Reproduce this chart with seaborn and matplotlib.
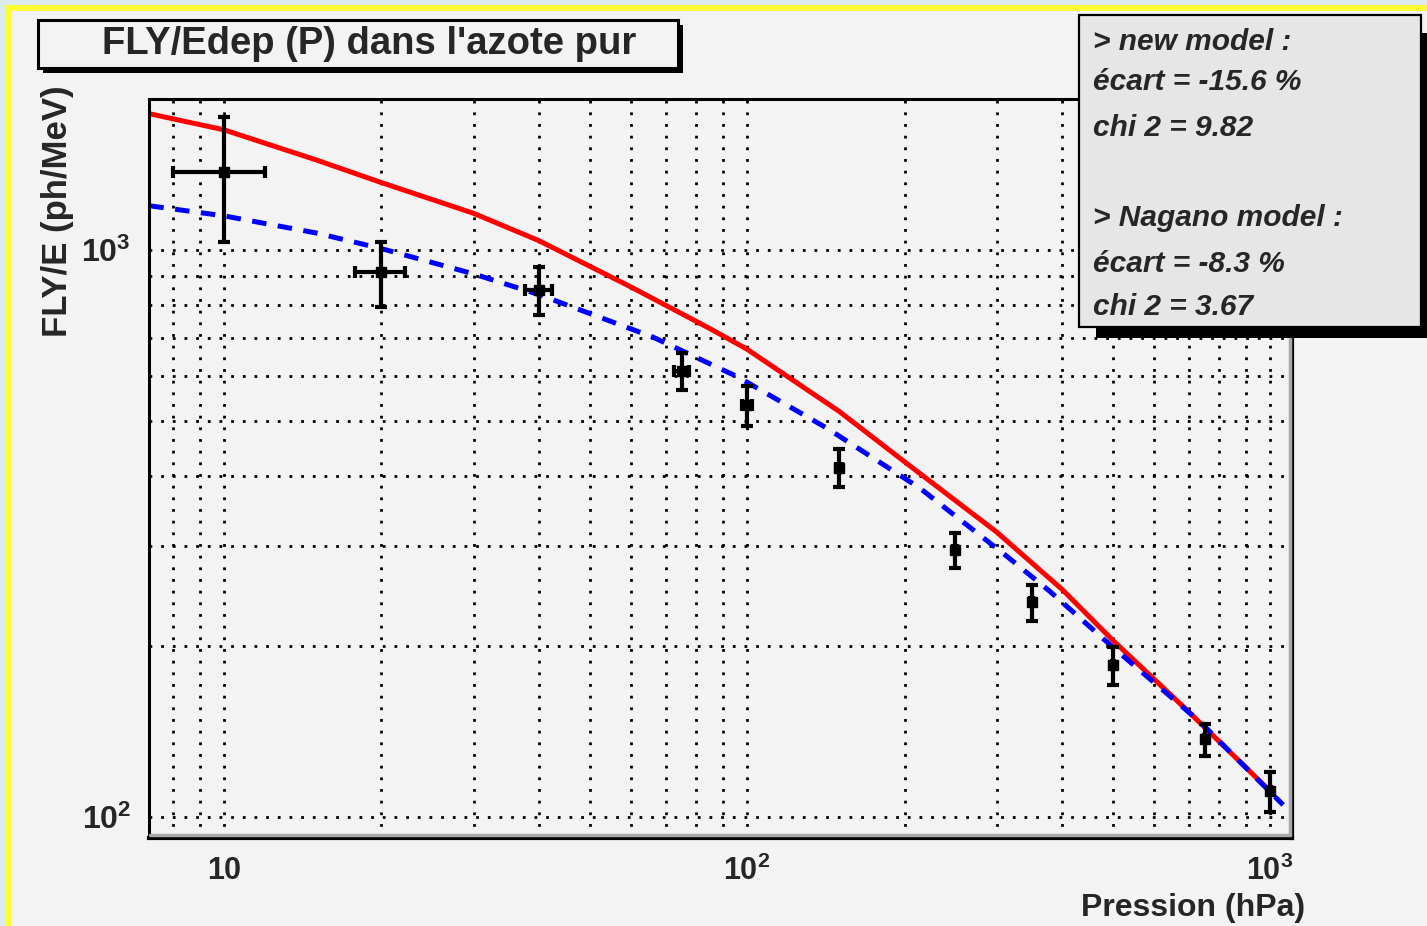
import numpy as np
import pandas as pd
import matplotlib
matplotlib.use('Agg')
import matplotlib.pyplot as plt
import seaborn as sns
from matplotlib.patches import Rectangle
from matplotlib.lines import Line2D

# points de mesure (azote pur)
pression = [10, 20, 40, 75, 100, 150, 250, 350, 500, 750, 1000]
fly = [1373, 914, 850, 612, 533, 413, 296, 239, 185, 137, 111]
err_fly = [340, 120, 83, 47, 43, 32, 21, 17, 14, 9, 9]
err_p = [2, 2.2, 2.3, 2.5, 2, 2, 2, 2, 2, 2, 2]

# nouveau modele (rouge)
p_new = [7.2, 10, 15, 20, 30, 40, 60, 85, 100, 150, 200, 300, 400, 500, 700, 1000]
fly_new = [1738, 1628, 1441, 1314, 1160, 1038, 860, 726, 668, 519, 423, 318, 252, 205, 153, 111]

# modele Nagano (bleu)
p_nag = [7.2, 10, 15, 20, 30, 40, 66, 96, 142, 214, 314, 379, 501, 735, 1059]
fly_nag = [1196, 1148, 1071, 1005, 907, 834, 702, 597, 485, 380, 288, 250, 199, 147, 105]

x_ticks = [10, 100, 1000]
x_labels = ['10', '$10^{2}$', '$10^{3}$']
y_ticks = [100, 1000]
y_labels = ['$10^{2}$', '$10^{3}$']

stats_lines = ['> new model :', 'écart = -15.6 %', 'chi 2 = 9.82', '',
               '> Nagano model :', 'écart = -8.3 %', 'chi 2 = 3.67']

sns.set_style('white')
plt.rcParams['font.family'] = ['Liberation Sans', 'DejaVu Sans']
plt.rcParams['font.weight'] = 'bold'
plt.rcParams['mathtext.default'] = 'regular'

W, H = 1427, 926
fig = plt.figure(figsize=(W / 100, H / 100), dpi=100)
fig.patch.set_facecolor('#dcebec')

def fx(px):
    return px / W

def fy(py):
    return 1 - py / H

def box(x0, y0, x1, y1, **kw):
    # rectangle en pixels (origine en haut a gauche)
    r = Rectangle((fx(x0), fy(y1)), fx(x1) - fx(x0), fy(y0) - fy(y1),
                  transform=fig.transFigure, **kw)
    fig.add_artist(r)
    return r

# cadre jaune + fond gris
box(5, 5, W + 20, H + 20, facecolor='#ffff33', edgecolor='none', zorder=-10)
box(11, 11, W + 20, H + 20, facecolor='#f3f3f3', edgecolor='none', zorder=-9)

ax = fig.add_axes([fx(149), fy(838), fx(1292) - fx(149), fy(99) - fy(838)])
ax.set_facecolor('#f3f3f3')
ax.set_xscale('log')
ax.set_yscale('log')

df_new = pd.DataFrame({'P': p_new, 'FLY': fly_new})
df_nag = pd.DataFrame({'P': p_nag, 'FLY': fly_nag})
sns.lineplot(data=df_new, x='P', y='FLY', ax=ax, color='#ff0000', lw=3.6,
             estimator=None, sort=False, zorder=3)
sns.lineplot(data=df_nag, x='P', y='FLY', ax=ax, color='#0000ff', lw=3.6,
             estimator=None, sort=False, zorder=3)
ax.lines[-1].set_dashes((2.9, 2.3))

ax.errorbar(pression, fly, yerr=err_fly, xerr=err_p, fmt='s', color='black',
            ms=7, elinewidth=3, capsize=4.5, capthick=3, zorder=4)

ax.set_xlim(7.19, 1101)
ax.set_ylim(91.8, 1845)

ax.set_xticks(x_ticks, labels=x_labels)
ax.set_yticks(y_ticks, labels=y_labels)
ax.xaxis.set_minor_locator(matplotlib.ticker.LogLocator(base=10, subs=np.arange(2, 10)))
ax.yaxis.set_minor_locator(matplotlib.ticker.LogLocator(base=10, subs=np.arange(2, 10)))
ax.xaxis.set_minor_formatter(matplotlib.ticker.NullFormatter())
ax.yaxis.set_minor_formatter(matplotlib.ticker.NullFormatter())

ax.tick_params(axis='x', which='major', direction='in', length=14, width=1.5,
               pad=13, labelsize=22)
ax.tick_params(axis='x', which='minor', direction='in', length=9, width=1.5)
ax.tick_params(axis='y', which='major', direction='in', length=27, width=1.5,
               pad=13, labelsize=23)
ax.tick_params(axis='y', which='minor', direction='in', length=13, width=1.5)
for lab in ax.get_xticklabels() + ax.get_yticklabels():
    lab.set_fontweight('bold')

ax.grid(True, which='both', color='black', lw=2, ls=(0, (1, 3.2)))
ax.set_axisbelow(True)

for s in ['left', 'top']:
    ax.spines[s].set_linewidth(2.2)
for s in ['bottom', 'right']:
    ax.spines[s].set_linewidth(3)
for s in ax.spines.values():
    s.set_color('black')
    s.set_zorder(6)

# ombre grise du cadre
fig.add_artist(Line2D([fx(150), fx(1290)], [fy(834.5), fy(834.5)], color='#a8a8a8',
                      lw=2.5, transform=fig.transFigure, zorder=5))
fig.add_artist(Line2D([fx(1289.5), fx(1289.5)], [fy(100), fy(835)], color='#a8a8a8',
                      lw=2.5, transform=fig.transFigure, zorder=5))

ax.set_xlabel('')
ax.set_ylabel('')
fig.text(fx(1305), fy(916), 'Pression (hPa)', ha='right', va='baseline',
         fontsize=23, fontweight='bold')
fig.text(fx(58), fy(85), 'FLY/E (ph/MeV)', ha='center', va='top',
         rotation=90, fontsize=25, fontweight='bold')

# boite de titre
box(43, 25, 683, 73, facecolor='black', edgecolor='none', zorder=1)
box(38, 20, 678, 68, facecolor='#f3f3f3', edgecolor='black', lw=2.2, zorder=2)
fig.text(fx(369), fy(44), "FLY/Edep (P) dans l'azote pur", ha='center',
         va='center', fontsize=27.5, fontweight='bold', zorder=3)

# boite des stats
box(1096, 33, W + 5, 338, facecolor='black', edgecolor='none', zorder=7)
box(1079, 15, 1421, 327, facecolor='#e6e6e6', edgecolor='black', lw=1.6, zorder=8)
line_y = [42, 82, 128, 173, 218, 264, 307]
for txt, yy in zip(stats_lines, line_y):
    if txt:
        fig.text(fx(1093), fy(yy), txt, ha='left', va='center', fontsize=21.5,
                 fontweight='bold', fontstyle='italic', zorder=9)

fig.savefig('out.png', dpi=100, facecolor=fig.get_facecolor())
